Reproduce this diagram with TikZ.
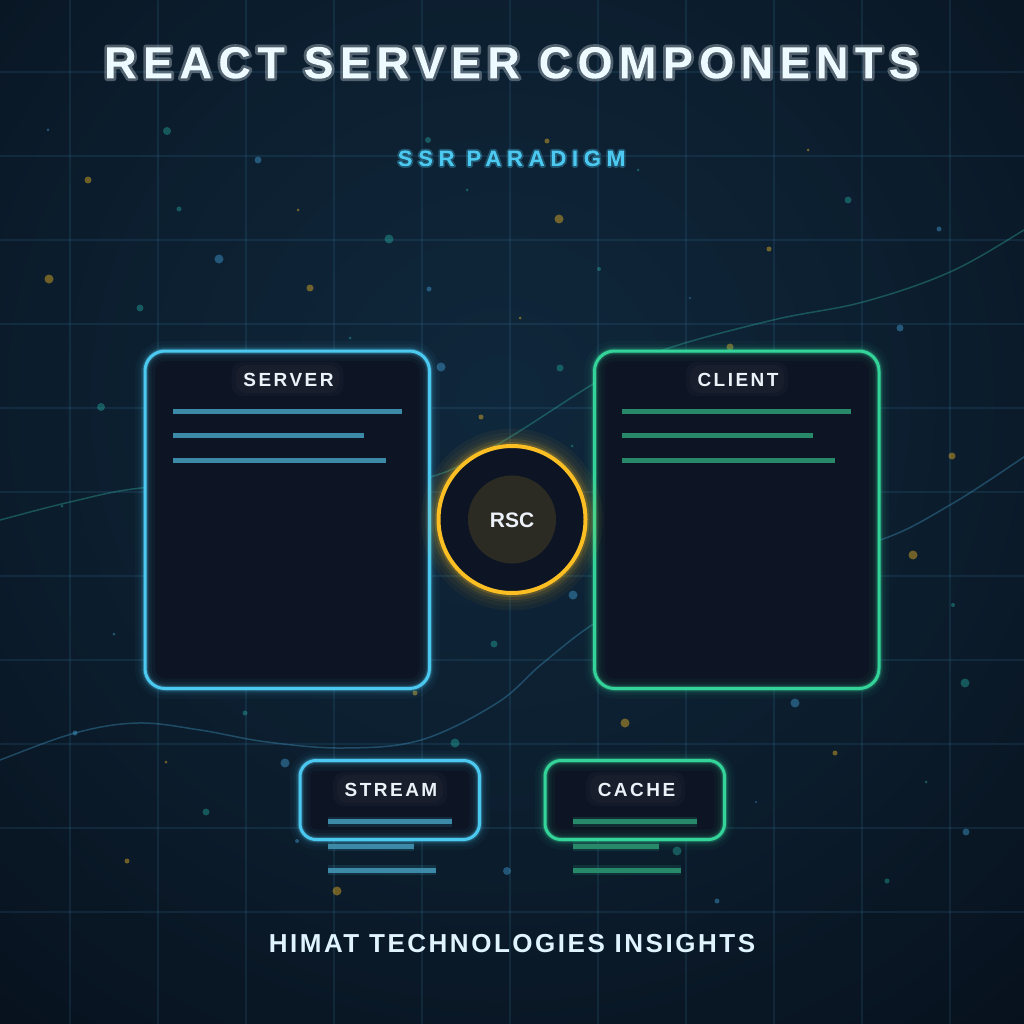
\documentclass[tikz,border=0pt]{standalone}
\usepackage{fontspec}
\setmainfont{Liberation Sans}
\newfontfamily\titlefont{Liberation Sans}[LetterSpace=14.2]
\newfontfamily\subfont{Liberation Sans}[LetterSpace=25]
\newfontfamily\footfont{Liberation Sans}[LetterSpace=9.7]
\newfontfamily\labfont{Liberation Sans}[LetterSpace=13]
\usetikzlibrary{calc}
\definecolor{srv}{RGB}{76,201,240}
\definecolor{cli}{RGB}{52,211,153}
\definecolor{amb}{RGB}{251,191,36}
\definecolor{boxfill}{RGB}{13,21,36}
\definecolor{srvline}{RGB}{61,138,168}
\definecolor{cliline}{RGB}{40,136,106}
\definecolor{gridc}{RGB}{58,124,165}
\definecolor{titlec}{RGB}{236,250,255}
\definecolor{footc}{RGB}{224,244,255}
\definecolor{labelc}{RGB}{236,242,248}
\definecolor{labglowc}{RGB}{40,42,56}
\definecolor{tealp}{RGB}{45,212,191}
\definecolor{bluep}{RGB}{76,180,240}
\definecolor{curveAc}{RGB}{45,160,150}
\definecolor{curveBc}{RGB}{60,140,180}
\pgfdeclareradialshading{bgshade}{\pgfpoint{0bp}{0bp}}{rgb(0bp)=(0.06,0.155,0.235); rgb(12bp)=(0.046,0.118,0.182); rgb(24bp)=(0.028,0.066,0.114); rgb(36bp)=(0.014,0.032,0.064); rgb(50bp)=(0.008,0.018,0.042)}
% glyphs filled, then stroked with a wide translucent line (soft halo)
\newcommand{\strokedtext}[3]{\special{pdf:literal direct #1 RG 1 j 1 J #2 w 2 Tr}#3\special{pdf:literal direct 0 Tr}}
\tikzset{
  gridline/.style={draw=gridc, draw opacity=0.17, line width=1.3pt},
  wave/.style={line width=1.5pt, draw opacity=0.42},
  glowbox/.style={rounded corners=#1, fill=boxfill, inner sep=0pt},
  panel/.style 2 args={glowbox=#2,
     postaction={draw=#1, draw opacity=0.04, line width=20pt},
     postaction={draw=#1, draw opacity=0.06, line width=13pt},
     postaction={draw=#1, draw opacity=0.12, line width=8pt},
     postaction={draw=#1, draw opacity=0.25, line width=5pt},
     postaction={draw=#1, line width=3pt}},
  contentline/.style={line width=5pt, line cap=butt},
  titlestyle/.style={font=\titlefont\bfseries\fontsize{45}{54}\selectfont, anchor=base, inner sep=0pt},
  substyle/.style={font=\subfont\bfseries\fontsize{22.3}{27}\selectfont, anchor=base, inner sep=0pt},
  footstyle/.style={font=\footfont\bfseries\fontsize{26}{31}\selectfont, anchor=base, inner sep=0pt, text=footc},
  labelstyle/.style={font=\labfont\bfseries\fontsize{19}{23}\selectfont, text=labelc, anchor=base, inner sep=0pt},
  labelhalo/.style={fill=labglowc, fill opacity=#1, rounded corners=11pt, inner sep=0pt},
}
\begin{document}
\begin{tikzpicture}[x=1pt,y=-1pt]
\useasboundingbox (0,0) rectangle (1024,1024);
% background
\begin{scope}
\clip (0,0) rectangle (1024,1024);
\shade[shading=bgshade] (500,400) circle (860);
\end{scope}
% grid
\foreach \gx in {70,158,...,950} \draw[gridline] (\gx,0) -- (\gx,1024);
\foreach \gy in {72,156,...,912} \draw[gridline] (0,\gy) -- (1024,\gy);
% waves
\begin{scope}
\clip (0,0) rectangle (1024,1024);
\draw[wave, draw=curveAc] plot[smooth, tension=0.6] coordinates {(-20,525) (0,520) (70,502) (141,488) (250,482) (350,482) (430,477) (500,443) (600,380) (663,350) (773,320) (863,302) (950,272) (1024,230) (1044,216)};
\draw[wave, draw=curveBc] plot[smooth, tension=0.6] coordinates {(-20,768) (0,760) (75,733) (138,723) (200,730) (267,742) (344,748) (421,740) (497,703) (543,663) (600,620) (680,582) (780,562) (880,540) (950,505) (1024,457) (1044,443)};
\end{scope}
% particles
\foreach \px/\py/\pr in {167/131/4, 179/209/2.5, 140/308/3.5, 389/239/4.5, 467/190/1.5, 599/269/2, 350/338/1.5, 560/368/3.5, 572/446/1.5, 428/140/3, 638/170/1.5, 848/200/3.5, 953/605/2, 965/683/4.5, 926/782/1.5, 677/851/4.5, 887/881/2.5, 245/713/2.5, 206/812/3.5, 62/506/1.5, 494/644/3.5, 455/743/4.5, 101/407/4}
  \fill[tealp, opacity=0.33] (\px,\py) circle (\pr);
\foreach \px/\py/\pr in {48/130/1.5, 258/160/3.5, 219/259/4.5, 429/289/2.5, 441/367/4.5, 939/229/2.5, 690/298/1.2, 900/328/3.5, 795/703/4.5, 756/802/1.2, 966/832/3.5, 717/901/2.5, 114/634/1.5, 75/733/2.5, 285/763/4.5, 297/841/2, 573/595/4.5, 507/871/4}
  \fill[bluep, opacity=0.38] (\px,\py) circle (\pr);
\foreach \px/\py/\pr in {88/180/3.5, 298/210/1.5, 49/279/4.5, 310/288/3.5, 559/219/4.5, 520/318/1.5, 481/417/2.5, 547/141/2.5, 808/150/1.5, 769/249/2.5, 730/347/3.5, 952/456/3.5, 913/555/4.5, 625/723/4.5, 835/753/2.5, 166/762/1.5, 127/861/2.5, 337/891/4.5, 415/693/2.5}
  \fill[amb, opacity=0.42] (\px,\py) circle (\pr);
% main panels
\node[panel={srv}{20pt}, minimum width=284.5pt, minimum height=337.5pt] (server) at (287.25,519.75) {};
\node[panel={cli}{20pt}, minimum width=284.5pt, minimum height=337.5pt] (client) at (736.75,519.75) {};
% panel labels
\node[labelhalo=0.22, minimum width=112pt, minimum height=34pt] (serverhaloA) at (287.5,379) {};
\node[labelhalo=0.3, minimum width=104pt, minimum height=28pt] (serverhaloB) at (287.5,379) {};
\node[labelstyle] (serverlabel) at (288.5,386) {SERVER};
\node[labelhalo=0.22, minimum width=102pt, minimum height=34pt] (clienthaloA) at (737,379) {};
\node[labelhalo=0.3, minimum width=94pt, minimum height=28pt] (clienthaloB) at (737,379) {};
\node[labelstyle] (clientlabel) at (738,386) {CLIENT};
% content lines
\draw[contentline, draw=srvline] (173,411.5) -- (402,411.5);
\draw[contentline, draw=srvline] (173,435.7) -- (364,435.7);
\draw[contentline, draw=srvline] (173,460) -- (386,460);
\draw[contentline, draw=cliline] (622,411.5) -- (851,411.5);
\draw[contentline, draw=cliline] (622,435.7) -- (813,435.7);
\draw[contentline, draw=cliline] (622,460) -- (835,460);
% RSC hub
\fill[amb, opacity=0.045] (512,519.5) circle (91);
\fill[amb, opacity=0.045] (512,519.5) circle (87);
\fill[amb, opacity=0.05] (512,519.5) circle (83);
\draw[amb, opacity=0.1, line width=14pt] (512,519.5) circle (73.5);
\draw[amb, opacity=0.18, line width=8pt] (512,519.5) circle (73.5);
\node[circle, minimum size=147pt, inner sep=0pt, fill=boxfill, draw=amb, line width=4pt] (rsc) at (512,519.5) {};
\node[circle, minimum size=88pt, inner sep=0pt, fill=amb, fill opacity=0.13] (rsccore) at (512,519.5) {};
\node[font=\bfseries\fontsize{21}{25}\selectfont, text=labelc, anchor=base, inner sep=0pt] (rsclabel) at (512,527.3) {RSC};
% small panels
\node[panel={srv}{16pt}, minimum width=179.5pt, minimum height=79pt] (stream) at (389.75,800) {};
\node[panel={cli}{16pt}, minimum width=179.5pt, minimum height=79pt] (cache) at (634.75,800) {};
\node[labelhalo=0.22, minimum width=114pt, minimum height=34pt] (streamhaloA) at (390,789) {};
\node[labelhalo=0.3, minimum width=106pt, minimum height=28pt] (streamhaloB) at (390,789) {};
\node[labelstyle] (streamlabel) at (391,796) {STREAM};
\node[labelhalo=0.22, minimum width=99pt, minimum height=34pt] (cachehaloA) at (635.5,789) {};
\node[labelhalo=0.3, minimum width=91pt, minimum height=28pt] (cachehaloB) at (635.5,789) {};
\node[labelstyle] (cachelabel) at (636.5,796) {CACHE};
\foreach \ly/\lx in {821.5/452, 846/414, 870/436} {
  \draw[srv, opacity=0.12, line width=10pt] (328,\ly) -- (\lx,\ly);
  \draw[contentline, draw=srvline] (328,\ly) -- (\lx,\ly);
}
\foreach \ly/\lx in {821.5/697, 846/659, 870/681} {
  \draw[cli, opacity=0.12, line width=10pt] (573,\ly) -- (\lx,\ly);
  \draw[contentline, draw=cliline] (573,\ly) -- (\lx,\ly);
}
% title (glow drawn as a soft stroke around the glyphs)
\node[titlestyle, text=titlec, draw opacity=0.3] (title) at (511.5,78.3) {\strokedtext{0.95 0.98 1}{5.5}{REACT SERVER COMPONENTS}};
% subtitle
\node[substyle, text=srv, draw opacity=0.3] (subtitle) at (511.5,166) {\strokedtext{0.3 0.79 0.94}{3.5}{SSR PARADIGM}};
% footer
\node[footstyle] (footer) at (512,952.7) {HIMAT TECHNOLOGIES INSIGHTS};
\end{tikzpicture}
\end{document}
